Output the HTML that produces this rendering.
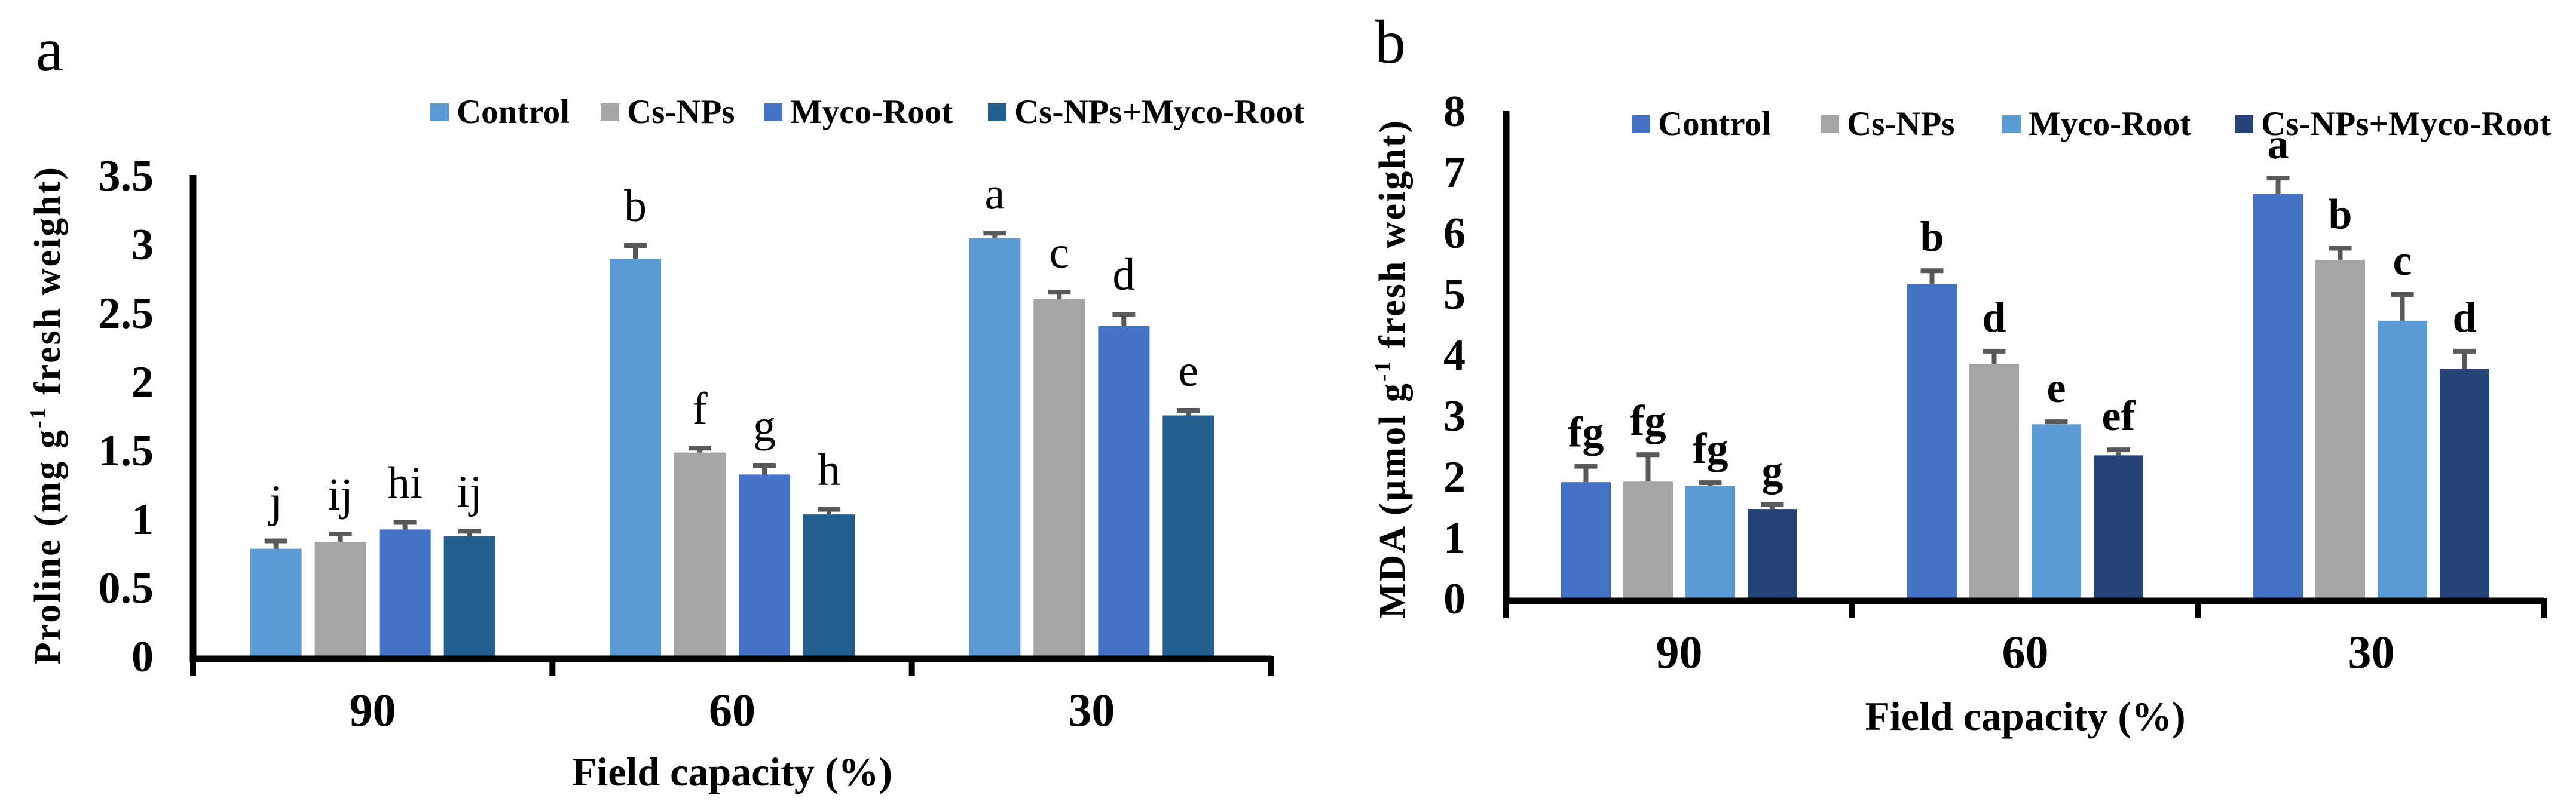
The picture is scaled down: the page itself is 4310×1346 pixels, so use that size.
<!DOCTYPE html>
<html><head><meta charset="utf-8"><style>
html,body{margin:0;padding:0;background:#fff;}
svg{display:block;font-family:"Liberation Serif",serif;}
</style></head><body>
<svg id="svg" width="4310" height="1346" viewBox="0 0 4310 1346" xmlns="http://www.w3.org/2000/svg"></svg>
<script>
// Panel a data (Proline)
const categoriesA = ["90","60","30"];
const seriesNamesA = ["Control","Cs-NPs","Myco-Root","Cs-NPs+Myco-Root"];
const valuesA = [[0.78,2.89,3.04],[0.83,1.48,2.60],[0.92,1.32,2.40],[0.87,1.03,1.75]];
const errorsA = [[0.07,0.11,0.05],[0.07,0.045,0.06],[0.065,0.08,0.10],[0.05,0.05,0.05]];
const lettersA = [["j","b","a"],["ij","f","c"],["hi","g","d"],["ij","h","e"]];
const ticksA = ["0","0.5","1","1.5","2","2.5","3","3.5"];
// Panel b data (MDA)
const categoriesB = ["90","60","30"];
const seriesNamesB = ["Control","Cs-NPs","Myco-Root","Cs-NPs+Myco-Root"];
const valuesB = [[1.90,5.15,6.63],[1.91,3.84,5.55],[1.84,2.85,4.55],[1.46,2.34,3.76]];
const errorsB = [[0.29,0.25,0.29],[0.47,0.24,0.22],[0.08,0.07,0.46],[0.10,0.12,0.32]];
const lettersB = [["fg","b","a"],["fg","d","b"],["fg","e","c"],["g","ef","d"]];
const ticksB = ["0","1","2","3","4","5","6","7","8"];

const NS="http://www.w3.org/2000/svg";
const svg=document.getElementById('svg');
function mk(tag,attrs,parent,text){const e=document.createElementNS(NS,tag);for(const k in attrs)e.setAttribute(k,attrs[k]);if(text!==undefined)e.textContent=text;(parent||svg).appendChild(e);return e;}

function drawPanel(cfg){
  const g=mk('g',{});
  
  
  const {x0,x1,y0,yTop,maxV}=cfg;
  const yS=v=>y0-(v/maxV)*(y0-yTop);
  const gw=(x1-x0)/cfg.cats.length;
  const xC=i=>x0+gw*(i+0.5);
  cfg.vals.forEach((ser,s)=>{
    ser.forEach((v,i)=>{
      const cx=xC(i)+(s-1.5)*cfg.step;
      const r=mk('rect',{x:cx-cfg.bw/2,y:yS(v),width:cfg.bw,height:y0-yS(v),fill:cfg.colors[s]},g);
      
      
      const top=yS(v+cfg.errs[s][i]);
      const eb=mk('path',{d:`M${cx} ${yS(v)}V${top}M${cx-19} ${top+3}H${cx+19}`,stroke:'#595959','stroke-width':8,fill:'none'},g);
      
      
      const t=mk('text',{x:cx,y:top-cfg.lgap,'text-anchor':'middle','font-size':cfg.letterSize,'font-weight':cfg.letterWeight},g,cfg.letters[s][i]);
      
      
    });
  });
  const ax=mk('path',{d:`M${x0} ${yTop}V${y0+5}H${x1}`,stroke:'#000','stroke-width':11,fill:'none'},g);
  
  
  for(let i=0;i<=cfg.cats.length;i++){
    const tx=x0+gw*i;
    const tk=mk('line',{x1:tx,y1:y0,x2:tx,y2:y0+34,stroke:'#000','stroke-width':10},g);
    
    
  }
  cfg.ticks.forEach((lab)=>{
    const v=parseFloat(lab);
    const t=mk('text',{x:cfg.tickRight,y:yS(v)+26,'text-anchor':'end','font-size':74,'font-weight':'bold'},g,lab);
    
    
  });
  cfg.cats.forEach((c,i)=>{
    const t=mk('text',{x:xC(i),y:cfg.xLabY,'text-anchor':'middle','font-size':78,'font-weight':'bold'},g,c);
    
    
  });
  const xt=mk('text',{x:(x0+x1)/2,y:cfg.xTitleY,'text-anchor':'middle','font-size':68,'font-weight':'bold'},g,'Field capacity (%)');
  
  
  const yt=mk('text',{x:0,y:0,'text-anchor':'middle','font-size':62,'font-weight':'bold','letter-spacing':3,transform:`translate(${cfg.yTitleX},${cfg.yTitleY}) rotate(-90)`},g);
  
  
  mk('tspan',{},yt,cfg.yTitle[0]);
  mk('tspan',{'font-size':38,dy:-24},yt,'-1');
  mk('tspan',{dy:24},yt,cfg.yTitle[1]);
  cfg.series.forEach((n,s)=>{
    const lx=cfg.legX[s];
    const sq=mk('rect',{x:lx,y:cfg.legY-15,width:31,height:30,fill:cfg.colors[s]},g);
    
    
    const t=mk('text',{x:lx+44,y:cfg.legY+18,'font-size':57,'font-weight':'bold'},g,n);
    
    
  });
  const pl=mk('text',{x:cfg.plX,y:cfg.plY,'font-size':104},g,cfg.panel);
  
  
}

drawPanel({name:'chart-a-proline',panel:'a',plX:60,plY:118,x0:323,x1:2127,y0:1098,yTop:293,maxV:3.5,
  cats:categoriesA,series:seriesNamesA,vals:valuesA,errs:errorsA,letters:lettersA,ticks:ticksA,
  colors:['#5B9BD5','#A5A5A5','#4472C4','#255E91'],bw:86,step:108,lgap:38,letterSize:76,letterWeight:'normal',
  tickRight:257,xLabY:1215,xTitleY:1315,yTitleX:100,yTitleY:695,yTitle:['Proline (mg g',' fresh weight)'],
  legX:[720,1005,1278,1653],legY:188});
drawPanel({name:'chart-b-mda',panel:'b',plX:2300,plY:105,x0:2520,x1:4257,y0:1001,yTop:185,maxV:8,
  cats:categoriesB,series:seriesNamesB,vals:valuesB,errs:errorsB,letters:lettersB,ticks:ticksB,
  colors:['#4472C4','#A5A5A5','#5B9BD5','#264478'],bw:83,step:104,lgap:30,letterSize:72,letterWeight:'bold',
  tickRight:2452,xLabY:1118,xTitleY:1222,yTitleX:2350,yTitleY:617,yTitle:['MDA (µmol g',' fresh weight)'],
  legX:[2730,3046,3350,3739],legY:208});
</script>
</body></html>
